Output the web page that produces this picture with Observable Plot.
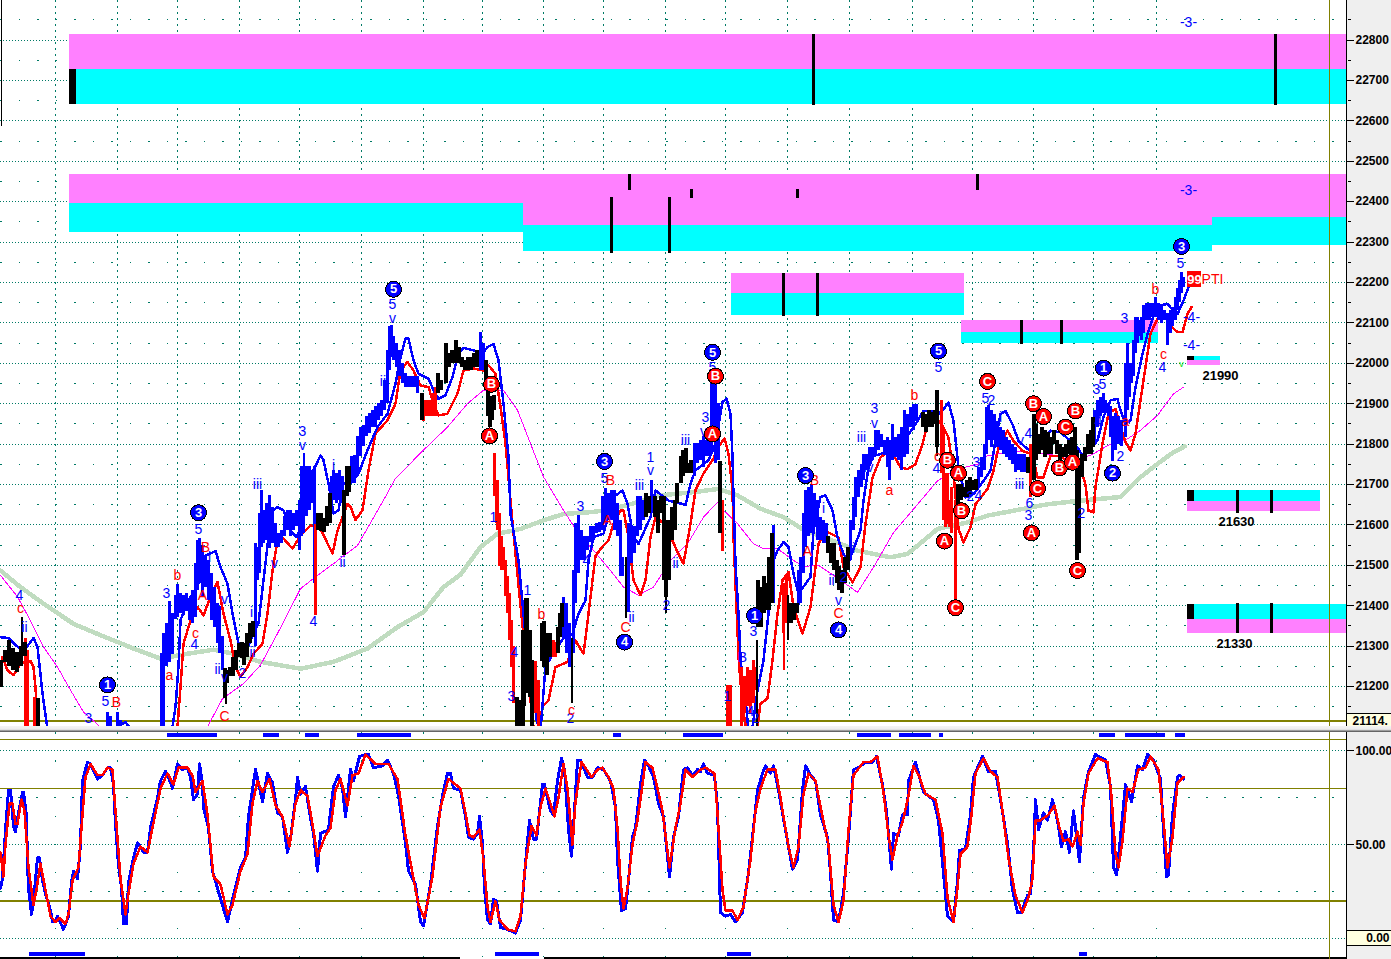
<!DOCTYPE html>
<html><head><meta charset="utf-8">
<script src="https://cdn.jsdelivr.net/npm/d3@7"></script>
<script src="https://cdn.jsdelivr.net/npm/@observablehq/plot@0.6"></script>
<style>
html,body{margin:0;padding:0;background:#fff}
#wrap{position:relative;width:1391px;height:959px;overflow:hidden;background:linear-gradient(to right,#fff 1346px,#efefef 1346px)}
#wrap svg{display:block;shape-rendering:crispEdges}
#sep{height:6px;background:linear-gradient(to bottom,#f4f4f4 0,#ececec 55%,#bbb 70%,#666 85%,#666 100%)}
</style></head><body><div id="wrap"></div>
<script>
const BLUE="#0000ff",RED="#ff0000",BLACK="#000000",OLIVE="#808000",TEAL="#007a66",PINK="#ff80ff",CYAN="#00ffff",MAG="#ff00ff",SAGE="#c0dcc0";

const gridX=[55,117,177,239,299,361,423,482,543,603,665,725,787,849,912,972,1033,1093,1156];
const priceTicks=[22800,22700,22600,22500,22400,22300,22200,22100,22000,21900,21800,21700,21600,21500,21400,21300,21200];
const priceHalf=[22850,22750,22650,22550,22450,22350,22250,22150,22050,21950,21850,21750,21650,21550,21450,21350,21250,21150];

// [x1,x2,priceTop,priceBottom]
const pinkZones=[[69,1346,22814,22727],[69,523,22467,22396],[523,1212,22467,22341],[1212,1346,22467,22361],[731,964,22223,22173],[961,1158,22106,22077],[1187,1220,22007,21995],[1187,1320,21659,21634],[1187,1346,21367,21332]];
const cyanZones=[[69,1346,22727,22640],[69,523,22396,22324],[523,1212,22341,22277],[1212,1346,22361,22292],[731,964,22173,22119],[961,1158,22077,22050],[1187,1220,22017,22007],[1187,1320,21684,21659],[1187,1346,21404,21367]];
const blackBlocks=[[69,76,22727,22640],[1187,1194,22017,22007],[1187,1194,21684,21659],[1187,1194,21404,21367]];
// [x,priceTop,priceBottom]
const zoneTicks=[[813,22814,22638],[1275,22814,22638],[611,22411,22272],[669,22411,22272],[629,22467,22428],[691,22430,22408],[797,22430,22408],[977,22467,22428],[783,22223,22116],[817,22223,22116],[1021,22106,22047],[1061,22106,22047],[1237,21686,21629],[1271,21686,21629],[1237,21406,21330],[1271,21406,21330]];
const zoneLabels=[[1220,21970,"21990"],[1236,21607,"21630"],[1234,21305,"21330"]];

const greenMA=[[0,21487],[20,21446],[43,21405],[73,21355],[100,21327],[133,21294],[160,21269],[187,21281],[213,21291],[233,21281],[260,21261],[300,21244],[333,21261],[367,21294],[397,21347],[423,21384],[443,21446],[460,21477],[480,21545],[497,21578],[520,21590],[543,21611],[563,21627],[593,21632],[613,21640],[637,21656],[660,21673],[693,21681],[718,21689],[737,21673],[760,21640],[783,21619],[803,21588],[827,21566],[840,21553],[857,21536],[890,21520],[907,21528],[927,21569],[937,21590],[967,21606],[987,21623],[1013,21635],[1047,21651],[1080,21660],[1120,21669],[1140,21718],[1157,21751],[1173,21780],[1184,21794]];
const magentaMA=[[0,21475],[17,21422],[28,21372],[43,21298],[57,21248],[70,21191],[83,21137],[98,21104],[110,21050],[195,21050],[207,21100],[222,21170],[243,21207],[260,21253],[277,21331],[300,21442],[317,21475],[333,21504],[357,21549],[383,21661],[395,21715],[423,21785],[447,21842],[467,21900],[483,21933],[503,21933],[517,21884],[530,21801],[543,21719],[563,21636],[577,21582],[593,21537],[610,21487],[623,21446],[638,21426],[653,21446],[670,21512],[687,21553],[703,21619],[717,21656],[723,21636],[737,21603],[753,21553],[763,21541],[777,21541],[793,21512],[803,21497],[818,21500],[833,21475],[843,21458],[857,21433],[873,21495],[893,21581],[913,21639],[937,21709],[957,21738],[977,21750],[987,21771],[1013,21783],[1047,21775],[1080,21762],[1093,21776],[1110,21800],[1127,21813],[1140,21834],[1157,21871],[1173,21924],[1183,21941]];
const blueMA=[[0,21322],[8,21320],[16,21300],[24,21290],[33,21320],[37,21298],[42,21183],[47,21095],[50,21050],[115,21050],[120,21105],[125,21112],[130,21095],[135,21050],[168,21050],[172,21100],[175,21150],[178,21250],[180,21364],[185,21397],[190,21421],[197,21446],[205,21524],[215,21535],[220,21496],[227,21454],[232,21380],[238,21306],[243,21273],[250,21314],[258,21356],[263,21463],[268,21570],[272,21636],[277,21644],[283,21636],[290,21586],[296,21570],[302,21603],[313,21735],[320,21772],[323,21760],[328,21702],[333,21628],[338,21636],[343,21702],[350,21702],[358,21727],[367,21785],[377,21842],[387,21875],[395,21950],[400,22015],[405,22061],[408,22061],[413,22007],[418,21974],[428,21962],[433,21933],[438,21912],[445,21921],[452,21966],[458,22024],[463,22038],[473,22032],[482,22024],[487,22040],[493,22048],[498,22007],[503,21900],[508,21768],[510,21627],[518,21512],[523,21380],[527,21273],[532,21215],[536,21117],[540,21090],[545,21250],[555,21290],[563,21320],[572,21330],[578,21380],[585,21413],[588,21512],[593,21570],[603,21578],[613,21669],[622,21685],[627,21652],[633,21570],[638,21553],[650,21619],[655,21685],[668,21660],[680,21653],[685,21649],[690,21702],[695,21735],[708,21760],[715,21801],[722,21904],[726,21912],[730,21875],[732,21768],[733,21669],[735,21504],[738,21380],[740,21273],[742,21215],[745,21170],[748,21090],[752,21100],[757,21190],[763,21265],[768,21380],[772,21504],[777,21537],[783,21557],[788,21545],[793,21479],[798,21430],[810,21471],[813,21586],[820,21669],[825,21673],[832,21636],[837,21569],[843,21528],[848,21507],[860,21586],[863,21660],[868,21742],[873,21771],[880,21775],[892,21792],[900,21800],[908,21824],[915,21849],[923,21882],[930,21882],[938,21874],[943,21886],[948,21903],[953,21857],[958,21742],[965,21668],[973,21676],[983,21709],[990,21734],[995,21808],[1000,21874],[1005,21882],[1012,21849],[1018,21808],[1025,21792],[1030,21783],[1038,21792],[1050,21833],[1060,21829],[1068,21812],[1077,21792],[1083,21767],[1097,21809],[1103,21867],[1110,21908],[1117,21912],[1120,21883],[1125,21850],[1130,21858],[1135,21941],[1142,22023],[1148,22081],[1155,22130],[1160,22143],[1167,22147],[1173,22130],[1177,22122],[1183,22155],[1188,22188]];
const redMA=[[0,21250],[2,21273],[7,21240],[13,21228],[20,21257],[30,21263],[33,21248],[35,21199],[37,21095],[40,21050],[172,21050],[177,21100],[180,21199],[183,21306],[190,21364],[197,21397],[203,21376],[208,21409],[217,21459],[223,21380],[230,21314],[235,21248],[240,21224],[247,21248],[253,21281],[262,21306],[267,21380],[272,21487],[277,21562],[283,21566],[292,21541],[300,21574],[310,21599],[320,21590],[332,21529],[337,21586],[347,21652],[350,21645],[355,21612],[362,21636],[368,21735],[375,21826],[387,21859],[395,21900],[400,21982],[407,22003],[413,21982],[420,21945],[428,21941],[433,21900],[438,21871],[447,21875],[457,21925],[463,21982],[473,21987],[483,21982],[488,21995],[495,21974],[500,21892],[505,21801],[510,21661],[513,21579],[520,21400],[527,21230],[533,21100],[538,21090],[542,21150],[548,21166],[555,21248],[567,21261],[575,21314],[583,21281],[588,21380],[595,21524],[603,21549],[608,21562],[613,21603],[620,21636],[623,21636],[628,21570],[633,21463],[640,21426],[645,21463],[650,21570],[655,21619],[665,21600],[677,21533],[683,21504],[690,21603],[695,21686],[703,21727],[713,21764],[718,21793],[724,21814],[728,21776],[732,21686],[733,21570],[735,21450],[737,21339],[738,21273],[742,21150],[746,21090],[752,21090],[757,21100],[760,21158],[767,21170],[772,21265],[777,21380],[782,21463],[788,21483],[793,21397],[802,21331],[810,21397],[818,21553],[825,21585],[838,21569],[843,21495],[852,21458],[860,21495],[865,21602],[872,21717],[880,21767],[890,21787],[900,21742],[907,21738],[915,21750],[922,21800],[928,21862],[937,21862],[943,21841],[948,21816],[953,21726],[958,21590],[963,21557],[970,21594],[975,21651],[987,21689],[993,21734],[998,21792],[1007,21833],[1013,21808],[1022,21783],[1032,21775],[1037,21717],[1043,21717],[1050,21771],[1060,21771],[1070,21750],[1080,21742],[1085,21700],[1088,21635],[1093,21631],[1095,21694],[1102,21801],[1108,21875],[1115,21887],[1120,21842],[1125,21805],[1130,21784],[1135,21826],[1142,21941],[1150,22073],[1157,22110],[1163,22126],[1170,22093],[1177,22077],[1182,22077],[1187,22122],[1191,22139]];

// [x,high,low]
const blueBars=[[107,21135,21090],[110,21125,21090],[117,21135,21090],[120,21115,21090],[161,21282,21090],[163,21330,21090],[166,21355,21250],[169,21410,21260],[172,21380,21280],[175,21425,21365],[177,21453,21372],[180,21430,21380],[183,21425,21376],[186,21430,21385],[189,21413,21364],[192,21438,21355],[195,21504,21372],[197,21562,21438],[199,21566,21455],[202,21550,21420],[205,21520,21446],[208,21512,21413],[211,21480,21364],[214,21446,21347],[217,21405,21306],[219,21397,21281],[222,21323,21240],[255,21553,21298],[257,21545,21463],[259,21627,21480],[261,21685,21545],[263,21636,21553],[266,21652,21561],[269,21673,21541],[272,21644,21553],[275,21603,21545],[278,21578,21545],[281,21586,21553],[284,21620,21570],[287,21636,21586],[290,21636,21570],[293,21627,21586],[296,21636,21595],[299,21660,21537],[301,21744,21570],[306,21744,21620],[309,21744,21636],[312,21735,21653],[314,21744,21454],[331,21719,21636],[333,21735,21661],[336,21727,21653],[339,21735,21661],[342,21719,21653],[351,21768,21702],[354,21772,21702],[357,21818,21719],[360,21842,21768],[363,21846,21793],[366,21867,21818],[369,21875,21826],[372,21884,21842],[375,21892,21842],[378,21900,21859],[381,21908,21867],[384,21958,21884],[387,22032,21900],[389,22090,21982],[391,22094,22015],[393,22065,22007],[396,22048,21990],[399,22032,21966],[402,21999,21950],[405,21974,21941],[408,21966,21941],[411,21966,21941],[414,21966,21941],[417,21966,21925],[480,22077,21982],[483,22048,21982],[563,21421,21322],[566,21405,21281],[569,21355,21248],[573,21487,21281],[575,21603,21405],[578,21623,21480],[581,21586,21512],[584,21570,21512],[587,21570,21537],[590,21595,21557],[593,21595,21562],[596,21603,21578],[599,21607,21582],[602,21669,21586],[605,21689,21603],[608,21677,21611],[611,21685,21611],[614,21685,21586],[617,21652,21570],[620,21611,21471],[622,21520,21471],[628,21603,21384],[631,21595,21504],[634,21595,21529],[637,21669,21570],[640,21669,21586],[643,21660,21611],[651,21710,21627],[694,21801,21719],[697,21801,21752],[700,21809,21760],[703,21818,21743],[706,21809,21768],[709,21809,21768],[711,21950,21785],[713,21974,21842],[715,21950,21752],[718,21900,21760],[773,21599,21405],[798,21487,21400],[800,21520,21405],[803,21627,21480],[805,21685,21545],[808,21693,21570],[811,21700,21578],[814,21677,21594],[817,21660,21561],[820,21619,21561],[823,21611,21553],[826,21603,21553],[850,21610,21511],[853,21668,21586],[855,21717,21618],[858,21734,21668],[861,21750,21693],[863,21775,21709],[866,21775,21734],[869,21792,21750],[872,21792,21759],[875,21833,21775],[878,21833,21783],[881,21824,21792],[884,21808,21771],[887,21816,21742],[889,21808,21709],[892,21849,21759],[895,21816,21767],[898,21824,21759],[901,21841,21734],[904,21882,21767],[907,21874,21775],[910,21890,21841],[913,21898,21833],[916,21898,21857],[978,21742,21693],[981,21767,21717],[984,21800,21734],[986,21890,21775],[988,21895,21808],[991,21882,21792],[994,21874,21808],[997,21857,21792],[1000,21841,21783],[1003,21833,21775],[1006,21816,21767],[1009,21808,21759],[1012,21800,21750],[1015,21792,21730],[1018,21775,21734],[1021,21775,21730],[1024,21775,21730],[1026,21767,21730],[1094,21883,21801],[1097,21908,21842],[1100,21916,21867],[1103,21924,21875],[1105,21908,21883],[1108,21900,21867],[1110,21892,21817],[1112,21867,21756],[1115,21875,21784],[1118,21867,21800],[1121,21858,21793],[1125,21999,21817],[1127,22048,21883],[1129,21999,21916],[1131,21999,21949],[1133,22056,21966],[1135,22114,22023],[1137,22114,22048],[1139,22106,22065],[1141,22114,22056],[1143,22143,22073],[1146,22147,22106],[1149,22147,22106],[1152,22147,22114],[1155,22163,22114],[1158,22147,22106],[1161,22143,22098],[1164,22130,22106],[1167,22122,22044],[1170,22130,22073],[1172,22139,22090],[1175,22163,22106],[1177,22184,22130],[1179,22205,22151],[1181,22225,22172],[1183,22213,22188]];
const blackBars=[[0,21265,21198],[4,21290,21260],[8,21315,21250],[12,21295,21240],[16,21285,21235],[20,21300,21250],[24,21310,21275],[37,21170,21090],[224,21244,21170],[226,21240,21207],[229,21248,21224],[232,21273,21224],[235,21290,21240],[238,21306,21273],[241,21310,21269],[243,21306,21252],[246,21330,21273],[249,21355,21306],[252,21360,21322],[317,21628,21587],[320,21628,21583],[323,21616,21580],[326,21645,21595],[329,21678,21603],[343,21686,21524],[346,21744,21669],[348,21744,21680],[421,21925,21859],[437,21974,21925],[440,21958,21933],[445,22048,21950],[448,22024,21990],[451,22032,21999],[455,22056,21999],[458,22040,21999],[461,22015,21990],[464,22007,21982],[467,22015,21982],[470,22015,21982],[473,22024,21990],[476,22032,21990],[485,22007,21933],[487,21949,21867],[489,21917,21842],[491,21917,21859],[493,21921,21884],[516,21174,21090],[519,21165,21090],[522,21339,21090],[526,21417,21183],[529,21339,21174],[531,21265,21090],[541,21356,21261],[543,21360,21248],[546,21331,21228],[549,21331,21273],[557,21347,21281],[559,21380,21322],[561,21405,21347],[645,21677,21619],[648,21669,21627],[654,21669,21619],[657,21660,21578],[660,21669,21627],[663,21669,21463],[665,21611,21421],[668,21611,21463],[671,21644,21562],[674,21660,21586],[676,21702,21653],[680,21768,21702],[682,21785,21719],[685,21789,21727],[688,21752,21727],[690,21760,21727],[719,21756,21579],[757,21463,21347],[760,21446,21347],[763,21471,21380],[765,21454,21389],[768,21520,21389],[771,21578,21405],[790,21405,21355],[793,21405,21364],[796,21405,21380],[827,21570,21529],[830,21553,21504],[833,21553,21487],[836,21512,21454],[838,21496,21438],[841,21487,21430],[844,21520,21454],[847,21545,21487],[922,21878,21841],[925,21874,21829],[928,21882,21841],[931,21878,21841],[934,21882,21849],[936,21932,21792],[957,21701,21651],[960,21701,21660],[963,21693,21668],[966,21709,21668],[969,21717,21676],[972,21709,21684],[975,21713,21684],[1027,21767,21726],[1033,21874,21709],[1035,21849,21759],[1038,21824,21775],[1041,21841,21783],[1044,21833,21767],[1047,21829,21775],[1050,21816,21775],[1053,21833,21800],[1056,21808,21775],[1059,21800,21750],[1062,21792,21767],[1065,21800,21767],[1068,21808,21775],[1071,21816,21775],[1074,21841,21750],[1076,21783,21511],[1078,21759,21528],[1081,21775,21717],[1084,21792,21758],[1087,21824,21775],[1090,21833,21775],[1092,21866,21792]];
const redBars=[[25,21320,21090],[27,21290,21090],[34,21172,21090],[315,21600,21376],[423,21908,21855],[426,21908,21867],[429,21908,21867],[432,21925,21867],[435,21941,21867],[494,21776,21669],[496,21669,21603],[497,21710,21586],[499,21627,21496],[501,21570,21487],[503,21545,21487],[505,21512,21422],[507,21471,21380],[509,21430,21314],[511,21364,21248],[513,21298,21158],[535,21261,21133],[538,21215,21090],[551,21310,21277],[553,21314,21273],[555,21310,21273],[722,21660,21533],[727,21203,21090],[730,21203,21090],[741,21248,21090],[744,21224,21133],[747,21248,21150],[750,21240,21133],[753,21265,21158],[755,21248,21190],[783,21454,21331],[786,21475,21356],[941,21907,21726],[943,21841,21610],[945,21726,21594],[947,21726,21602],[949,21660,21594],[951,21693,21578],[955,21660,21404],[1030,21800,21668]];
// thin one-pixel spikes [x,high,low,colour]
const spikes=[[21,21370,21280,BLACK],[225,21244,21155,BLACK],[303,21776,21578,BLUE],[524,21417,21150,BLACK],[571,21318,21159,BLACK],[625,21520,21368,BLACK],[627,21603,21384,BLUE],[665,21421,21380,BLACK],[756,21314,21090,BLACK],[783,21331,21240,RED],[787,21426,21314,BLACK],[936,21792,21770,BLACK]];

const blueCircles=[[107,21204,"1"],[198,21630,"3"],[393,22183,"5"],[604,21757,"3"],[624,21310,"4"],[712,22027,"5"],[754,21375,"1"],[805,21722,"3"],[838,21340,"4"],[938,22030,"5"],[1103,21988,"1"],[1112,21728,"2"],[1181,22289,"3"]];
const redCircles=[[489,21820,"A"],[491,21948,"B"],[715,21968,"B"],[712,21825,"A"],[947,21760,"B"],[958,21728,"A"],[961,21635,"B"],[944,21560,"A"],[955,21395,"C"],[987,21955,"C"],[1033,21900,"B"],[1043,21868,"A"],[1037,21690,"C"],[1031,21580,"A"],[1065,21842,"C"],[1075,21882,"B"],[1059,21741,"B"],[1072,21755,"A"],[1077,21487,"C"]];
const blueLabels=[[19,21426,"4"],[24,21347,"ii"],[105,21162,"5"],[88,21122,"3"],[198,21588,"5"],[166,21429,"3"],[194,21303,"4"],[217,21242,"ii"],[224,21221,"v"],[224,21415,"v"],[209,21520,"i"],[251,21384,"i"],[242,21232,"2"],[252,21285,"ii"],[257,21700,"iii"],[274,21505,"v"],[313,21360,"4"],[342,21507,"ii"],[333,21747,"i"],[302,21830,"3"],[302,21796,"v"],[384,21955,"iii"],[392,22145,"5"],[392,22110,"v"],[493,21619,"1"],[527,21438,"1"],[514,21285,"4"],[511,21175,"3"],[570,21122,"2"],[586,21512,"4"],[580,21646,"3"],[604,21715,"5"],[639,21698,"iii"],[650,21767,"1"],[650,21735,"v"],[631,21370,"ii"],[675,21505,"ii"],[666,21400,"2"],[685,21808,"iii"],[705,21865,"3"],[703,21830,"v"],[712,21990,"5"],[753,21335,"3"],[742,21272,"B"],[727,21175,"1"],[750,21137,"4"],[755,21122,"2"],[823,21641,"i"],[831,21463,"ii"],[838,21412,"v"],[853,21542,"i"],[843,21470,"2"],[861,21817,"iii"],[874,21887,"3"],[874,21852,"v"],[868,21743,"iv"],[938,21990,"5"],[936,21740,"4"],[976,21755,"3"],[970,21670,"2"],[978,21672,"4"],[985,21913,"5"],[991,21908,"2"],[1000,21866,"i"],[1019,21700,"iii"],[1020,21810,"v"],[1028,21827,"4"],[1028,21622,"3"],[1029,21654,"6"],[1081,21629,"2"],[1096,21936,"3"],[1102,21948,"5"],[1098,21855,"4"],[1120,21770,"2"],[1124,22110,"3"],[1162,21990,"4"],[1180,22247,"5"],[1191,22114,"-4-"],[1191,22045,"-4-"],[1188,22844,"-3-"],[1188,22428,"-3-"]];
const redLabels=[[20,21392,"c"],[116,21160,"B"],[205,21545,"B"],[177,21474,"b"],[202,21424,"A"],[195,21332,"c"],[169,21226,"a"],[224,21125,"C"],[541,21377,"b"],[571,21140,"c"],[610,21710,"B"],[607,21610,"A"],[625,21347,"C"],[814,21710,"B"],[807,21535,"A"],[838,21380,"C"],[889,21686,"a"],[914,21920,"b"],[937,21770,"c"],[1125,21855,"a"],[1155,22182,"b"],[1163,22022,"c"]];
const ptiBox=[[1187,1201,22228,22188]];
const ptiText=[[1194,22207,"99"]];
const ptiLabel=[[1212,22207,"PTI"]];
const lastPriceBox=[[1347,1391,21134,21095]];
const lastPrice=[[1352,21115,"21114."]];
const greenTick=[[1181,21998,"v"]];

// oscillator
const oscFast=[[0,27],[2,32],[5,58],[8,79],[10,79],[13,60],[15,57],[18,67],[22,78],[23,78],[26,65],[27,40],[28,27],[31,13],[33,20],[37,43],[39,43],[42,31],[45,24],[50,15],[52,9],[55,10],[57,12],[63,5],[68,12],[71,30],[73,36],[77,32],[80,50],[82,84],[87,94],[90,93],[97,85],[102,87],[107,91],[110,91],[113,82],[115,61],[118,39],[121,27],[123,8],[126,8],[128,30],[133,43],[137,51],[140,49],[143,46],[147,46],[150,59],[157,75],[160,84],[165,89],[168,86],[172,80],[177,93],[182,90],[187,91],[190,86],[193,74],[197,77],[199,93],[202,82],[203,70],[208,59],[212,36],[217,27],[223,16],[227,9],[233,23],[240,38],[245,43],[248,65],[255,90],[262,73],[267,88],[272,83],[277,67],[282,65],[287,46],[290,53],[295,74],[297,86],[300,77],[305,81],[310,64],[313,56],[317,36],[320,56],[328,58],[333,81],[338,87],[342,80],[345,65],[350,90],[353,84],[359,97],[365,98],[368,98],[373,91],[382,92],[387,95],[393,88],[398,76],[405,51],[408,36],[415,29],[420,9],[423,7],[430,29],[437,60],[442,76],[447,88],[450,88],[453,80],[460,79],[465,65],[468,54],[473,53],[477,56],[479,65],[482,51],[484,27],[487,10],[490,8],[493,21],[496,20],[500,6],[507,5],[515,3],[520,10],[525,40],[529,63],[533,53],[536,53],[542,82],[544,82],[550,68],[553,66],[557,84],[561,96],[564,90],[568,58],[571,44],[573,59],[577,95],[580,95],[587,86],[592,86],[597,91],[603,90],[610,84],[615,70],[617,42],[621,15],[625,16],[628,31],[632,54],[635,59],[640,82],[644,95],[648,92],[653,86],[658,72],[663,65],[669,33],[673,54],[678,65],[683,90],[687,91],[692,87],[697,90],[700,89],[703,93],[707,88],[714,87],[717,70],[720,14],[725,12],[730,13],[735,9],[742,14],[748,35],[753,59],[757,79],[762,88],[765,92],[770,88],[773,92],[778,79],[785,58],[792,37],[797,42],[802,79],[805,92],[810,87],[815,84],[820,66],[827,54],[830,35],[833,10],[838,9],[843,24],[848,54],[853,90],[858,91],[865,94],[872,94],[876,97],[882,82],[886,68],[891,37],[893,56],[898,55],[902,66],[907,66],[908,84],[915,94],[919,86],[923,78],[933,74],[938,63],[943,35],[947,12],[953,9],[957,31],[959,47],[965,48],[970,66],[973,86],[982,97],[988,89],[995,89],[1000,74],[1007,51],[1012,26],[1017,14],[1021,14],[1027,23],[1030,24],[1033,45],[1035,74],[1038,58],[1043,67],[1047,63],[1052,74],[1057,63],[1061,49],[1065,57],[1069,46],[1073,68],[1076,55],[1079,41],[1083,75],[1088,89],[1095,98],[1105,95],[1110,81],[1113,38],[1116,34],[1118,43],[1125,82],[1131,73],[1137,92],[1142,90],[1147,98],[1153,95],[1160,85],[1163,58],[1166,33],[1168,34],[1172,66],[1177,86],[1179,87],[1183,85]];
const oscSlow=[[0,46],[3,33],[5,50],[9,72],[12,72],[15,61],[17,61],[21,74],[24,68],[28,38],[33,18],[36,26],[40,40],[45,26],[50,12],[55,9],[59,11],[65,8],[68,13],[72,31],[78,38],[82,66],[85,86],[90,93],[97,87],[102,87],[107,91],[112,90],[115,68],[120,32],[125,13],[128,24],[133,40],[140,49],[147,46],[152,59],[160,80],[167,88],[173,82],[178,91],[187,91],[192,87],[195,78],[202,84],[207,66],[213,33],[220,29],[227,13],[232,18],[240,36],[247,45],[252,72],[257,84],[262,78],[269,85],[275,71],[282,65],[289,49],[295,72],[300,79],[307,76],[312,61],[317,44],[325,55],[330,59],[335,79],[340,85],[347,71],[352,87],[358,88],[365,98],[375,93],[388,93],[397,85],[405,55],[413,32],[418,18],[424,11],[432,33],[440,70],[448,85],[460,80],[465,67],[469,55],[473,54],[479,58],[483,42],[487,17],[490,9],[495,20],[499,10],[507,5],[515,4],[520,12],[525,40],[531,60],[536,55],[540,70],[545,80],[550,72],[554,65],[558,75],[563,93],[567,80],[572,50],[575,73],[581,94],[586,90],[591,86],[597,90],[602,91],[608,86],[613,80],[617,59],[620,31],[623,16],[627,27],[632,50],[637,63],[642,82],[645,94],[652,91],[657,80],[662,68],[667,47],[669,38],[675,59],[680,72],[685,90],[692,86],[700,90],[705,91],[714,88],[717,67],[722,26],[725,15],[732,15],[737,10],[743,17],[750,42],[755,68],[760,80],[767,90],[775,90],[780,75],[788,49],[793,38],[798,49],[803,77],[808,88],[815,84],[822,65],[828,50],[833,18],[838,9],[843,20],[848,58],[853,87],[863,94],[870,94],[877,97],[883,78],[888,55],[892,42],[897,55],[902,62],[908,76],[913,92],[919,86],[925,77],[935,74],[942,56],[947,22],[953,9],[957,27],[960,45],[967,49],[971,66],[975,88],[983,96],[990,89],[997,86],[1002,68],[1008,43],[1015,23],[1022,14],[1028,22],[1032,32],[1035,63],[1040,63],[1048,66],[1054,71],[1059,59],[1063,52],[1068,53],[1072,49],[1077,57],[1080,50],[1083,72],[1088,88],[1097,96],[1107,94],[1111,76],[1115,45],[1118,38],[1122,52],[1127,80],[1132,78],[1138,90],[1145,91],[1150,97],[1158,90],[1163,63],[1167,38],[1172,54],[1177,83],[1183,86]];
const oscTicks=[100,50];
const oscLevels=[80,20];
const oscGrid=[100,50,0];
const oscSparse=[75,25];
const oscTopLine=[105.9];
const stripTop=[[167,217],[263,279],[305,319],[357,411],[613,621],[683,723],[857,891],[899,931],[939,943],[1099,1115],[1125,1165],[1175,1185]];
const stripBottom=[[29,85],[495,539],[727,751],[1079,1087]];
const zeroBox=[[1347,1391,4.4,-3.6]];
const zeroText=[[1389,0.3,"0.00"]];
const bottomLine=[[0,460],[544,1346]];
const cornerBracket=[[1,22900,22586]];

const FONT="Liberation Sans, Arial, sans-serif";
const bars=(arr,color,w=3.5)=>Plot.ruleX(arr,{x:d=>d[0],y1:d=>d[1],y2:d=>d[2],stroke:color,strokeWidth:w});
const rects=(arr,color)=>Plot.rect(arr,{x1:d=>d[0],x2:d=>d[1],y1:d=>d[2],y2:d=>d[3],fill:color});
const ln=(arr,color,w)=>Plot.line(arr,{x:d=>d[0],y:d=>d[1],stroke:color,strokeWidth:w,strokeLinejoin:"round"});
const txt=(arr,color,size=14,weight="normal",anchor="middle")=>Plot.text(arr,{x:d=>d[0],y:d=>d[1],text:d=>d[2],fill:color,fontSize:size,fontWeight:weight,textAnchor:anchor});
const circ=(arr,color)=>[Plot.dot(arr,{x:d=>d[0],y:d=>d[1],r:8,fill:color,stroke:BLACK,strokeWidth:1}),txt(arr,"#fff",13,"bold")];

const topPanel=Plot.plot({
  width:1391,height:726,marginTop:0,marginBottom:0,marginLeft:0,marginRight:45,
  style:{background:"transparent",fontFamily:FONT,color:"#000",overflow:"hidden"},
  x:{domain:[0,1346],range:[0,1346],axis:null},
  y:{domain:[22800,21200],range:[39.5,686]},
  marks:[
    Plot.ruleY(priceTicks,{stroke:TEAL,strokeDasharray:"1 2"}),
    Plot.ruleY(priceHalf,{stroke:TEAL,strokeDasharray:"1.5 17"}),
    Plot.ruleX(gridX,{stroke:TEAL,strokeDasharray:"1.5 4.5"}),
    rects(pinkZones,PINK),rects(cyanZones,CYAN),rects(blackBlocks,BLACK),
    bars(zoneTicks,BLACK,2.5),
    bars(cornerBracket,BLACK,1.5),
    Plot.ruleY([21114],{stroke:OLIVE,strokeWidth:1.5}),
    ln(greenMA,SAGE,4.5),ln(magentaMA,MAG,1),ln(redMA,RED,2.5),ln(blueMA,BLUE,2.5),
    bars(blueBars,BLUE),bars(redBars,RED),bars(blackBars,BLACK,4),
    Plot.ruleX(spikes,{x:d=>d[0],y1:d=>d[1],y2:d=>d[2],stroke:d=>d[3],strokeWidth:2}),
    txt(blueLabels,BLUE),txt(redLabels,RED),
    ...circ(blueCircles,BLUE),...circ(redCircles,RED),
    txt(zoneLabels,BLACK,13,"bold"),
    rects(ptiBox,RED),txt(ptiText,"#fff",13,"bold"),txt(ptiLabel,RED,14),
    txt(greenTick,"#00e000",9),
    Plot.ruleX([1329],{stroke:OLIVE,strokeWidth:1.5}),
    Plot.ruleX([1346],{stroke:BLACK,strokeWidth:1.5}),
    Plot.ruleY(priceHalf,{x1:1348,x2:1351,stroke:BLACK}),
    Plot.axisY({anchor:"right",ticks:priceTicks,tickFormat:"d",tickSize:7,tickPadding:2,label:null,fontSize:12,fontWeight:"bold",stroke:BLACK}),
    rects(lastPriceBox,"#ffffe0"),
    Plot.ruleY([21134],{x1:1347,x2:1391,stroke:BLACK}),
    txt(lastPrice,BLACK,12,"bold","start")
  ]
});
const botPanel=Plot.plot({
  width:1391,height:227,marginTop:0,marginBottom:0,marginLeft:0,marginRight:45,
  style:{background:"transparent",fontFamily:FONT,color:"#000",overflow:"hidden"},
  x:{domain:[0,1346],range:[0,1346],axis:null},
  y:{domain:[100,0],range:[18.3,206.3]},
  marks:[
    Plot.ruleY(oscGrid,{stroke:TEAL,strokeDasharray:"1 2"}),
    Plot.ruleY(oscSparse,{stroke:TEAL,strokeDasharray:"1.5 16.5"}),
    Plot.ruleX(gridX,{stroke:TEAL,strokeDasharray:"1.5 26.5"}),
    Plot.ruleY(oscLevels,{stroke:OLIVE,strokeWidth:1.5}),
    Plot.ruleY(oscTopLine,{stroke:OLIVE,strokeWidth:1.5}),
    Plot.rect(stripTop,{x1:d=>d[0],x2:d=>d[1],y1:109.2,y2:106.9,fill:BLUE}),
    Plot.rect(stripBottom,{x1:d=>d[0],x2:d=>d[1],y1:-7.3,y2:-9.4,fill:BLUE}),
    ln(oscFast,BLUE,3),ln(oscSlow,RED,2.5),
    Plot.ruleY(bottomLine,{x1:d=>d[0],x2:d=>d[1],y:-10.2,stroke:BLACK,strokeWidth:1.5}),
    Plot.ruleX([1329],{stroke:OLIVE,strokeWidth:1.5}),
    Plot.ruleX([1346],{stroke:BLACK,strokeWidth:1.5}),
    Plot.axisY({anchor:"right",ticks:oscTicks,tickFormat:".2f",tickSize:7,tickPadding:2,label:null,fontSize:12,fontWeight:"bold",stroke:BLACK}),
    rects(zeroBox,"#ffffe0"),
    Plot.ruleY([4.4,-3.6],{x1:1347,x2:1391,stroke:BLACK}),
    txt(zeroText,BLACK,12,"bold","end")
  ]
});
const wrap=document.getElementById("wrap");
wrap.append(topPanel);
const sep=document.createElement("div");sep.id="sep";wrap.append(sep);
wrap.append(botPanel);
</script></body></html>
